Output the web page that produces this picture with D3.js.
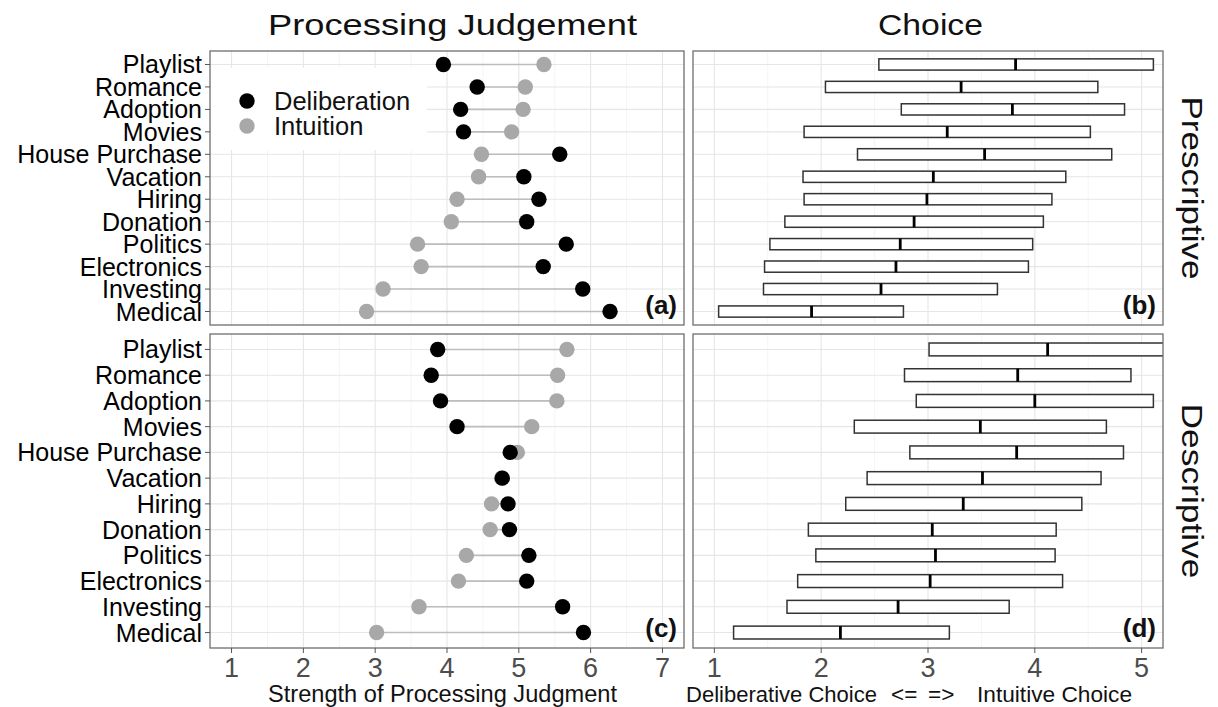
<!DOCTYPE html>
<html><head><meta charset="utf-8">
<script src="https://cdn.jsdelivr.net/npm/d3@7"></script>
<style>
body{margin:0;background:#fff}
svg{display:block}
text{font-family:"Liberation Sans", Arial, sans-serif}
</style>
</head><body>
<svg id="chart" width="1218" height="707"></svg>
<script>
// ---------- data ----------
const categories = ["Playlist","Romance","Adoption","Movies","House Purchase","Vacation","Hiring","Donation","Politics","Electronics","Investing","Medical"];
// Processing judgement (a) prescriptive, (c) descriptive
const presDelib = [3.95,4.42,4.19,4.23,5.57,5.07,5.28,5.11,5.66,5.34,5.89,6.27];
const presIntu  = [5.35,5.09,5.06,4.90,4.48,4.44,4.14,4.06,3.59,3.64,3.11,2.88];
const descDelib = [3.87,3.78,3.91,4.14,4.88,4.77,4.85,4.87,5.14,5.11,5.61,5.90];
const descIntu  = [5.67,5.54,5.53,5.18,4.98,4.76,4.62,4.60,4.27,4.16,3.61,3.02];
// Choice (b) prescriptive, (d) descriptive: box low / median / high
const presLow  = [2.54,2.04,2.75,1.84,2.34,1.83,1.84,1.66,1.52,1.47,1.46,1.04];
const presMed  = [3.82,3.31,3.79,3.18,3.53,3.05,2.99,2.87,2.74,2.70,2.56,1.91];
const presHigh = [5.11,4.59,4.84,4.52,4.72,4.29,4.16,4.08,3.98,3.94,3.65,2.77];
const descLow  = [3.01,2.78,2.89,2.31,2.83,2.43,2.23,1.88,1.95,1.78,1.68,1.18];
const descMed  = [4.12,3.84,4.00,3.49,3.83,3.51,3.33,3.04,3.07,3.02,2.72,2.18];
const descHigh = [5.35,4.90,5.11,4.67,4.83,4.62,4.44,4.20,4.19,4.26,3.76,3.20];
const judgTicks = [1,2,3,4,5,6,7];
const choiceTicks = [1,2,3,4,5];
const seriesNames = ["Deliberation","Intuition"];
const rowLabels = ["Prescriptive","Descriptive"];
const panelTags = ["(a)","(b)","(c)","(d)"];

// ---------- layout ----------
const svg = d3.select("#chart");
const colL = [210, 684], colR = [693, 1163];
const rowT = [51, 325], rowB = [334, 648];
const xJ = d3.scaleLinear().domain([0.7, 7.3]).range(colL);
const xC = d3.scaleLinear().domain([0.8, 5.2]).range(colR);
const yTop = d3.scalePoint().domain(categories).range(rowT).padding(0.6);
const yBot = d3.scalePoint().domain(categories).range(rowB).padding(0.6);
const colDelib = "#000000", colIntu = "#a8a8a8";

const defs = svg.append("defs");

function grid(g, x, y, ticks) {
  const minor = [];
  for (let i = 0; i < ticks.length - 1; i++) minor.push((ticks[i] + ticks[i+1]) / 2);
  const [ry0, ry1] = y.range();
  const [rx0, rx1] = x.range();
  g.selectAll(".mn").data(minor).join("line")
    .attr("x1", d => x(d)).attr("x2", d => x(d)).attr("y1", ry0).attr("y2", ry1)
    .attr("stroke", "#f3f3f3").attr("stroke-width", 0.8);
  g.selectAll(".mj").data(ticks).join("line")
    .attr("x1", d => x(d)).attr("x2", d => x(d)).attr("y1", ry0).attr("y2", ry1)
    .attr("stroke", "#e6e6e6").attr("stroke-width", 1.1);
  g.selectAll(".hy").data(categories).join("line")
    .attr("x1", rx0).attr("x2", rx1).attr("y1", d => y(d)).attr("y2", d => y(d))
    .attr("stroke", "#e6e6e6").attr("stroke-width", 1.1);
}

function border(g, x, y) {
  const [rx0, rx1] = x.range(), [ry0, ry1] = y.range();
  g.append("rect").attr("x", rx0).attr("y", ry0).attr("width", rx1 - rx0).attr("height", ry1 - ry0)
    .attr("fill", "none").attr("stroke", "#6e6e6e").attr("stroke-width", 1.3);
}

function tag(g, x, y, t) {
  const [rx0, rx1] = x.range(), [ry0, ry1] = y.range();
  g.append("text").attr("x", rx1 - 7).attr("y", ry1 - 11).attr("text-anchor", "end")
    .attr("font-size", 26).attr("font-weight", "bold").attr("fill", "#111").text(t);
}

function dumbbell(y, delib, intu, t, legend) {
  const g = svg.append("g");
  grid(g, xJ, y, judgTicks);
  if (legend) {
    g.append("rect").attr("x", 211).attr("y", 68).attr("width", 216).attr("height", 82).attr("fill", "#fff");
  }
  const rows = categories.map((c, i) => ({c, d: delib[i], n: intu[i]}));
  g.selectAll(".seg").data(rows).join("line")
    .attr("x1", r => xJ(r.d)).attr("x2", r => xJ(r.n))
    .attr("y1", r => y(r.c)).attr("y2", r => y(r.c))
    .attr("stroke", "#bdbdbd").attr("stroke-width", 1.6);
  g.selectAll(".pi").data(rows).join("circle")
    .attr("cx", r => xJ(r.n)).attr("cy", r => y(r.c)).attr("r", 7.7).attr("fill", colIntu);
  g.selectAll(".pd").data(rows).join("circle")
    .attr("cx", r => xJ(r.d)).attr("cy", r => y(r.c)).attr("r", 7.7).attr("fill", colDelib);
  if (legend) {
    const lg = g.append("g");
    seriesNames.forEach((s, i) => {
      lg.append("circle").attr("cx", 247).attr("cy", 101 + i * 25).attr("r", 7.7)
        .attr("fill", i === 0 ? colDelib : colIntu);
      lg.append("text").attr("x", 274).attr("y", 110 + i * 25).attr("font-size", 25.5)
        .attr("fill", "#111").text(s);
    });
  }
  border(g, xJ, y);
  tag(g, xJ, y, t);
  // y axis labels and ticks
  g.selectAll(".yl").data(categories).join("text")
    .attr("x", 202).attr("y", d => y(d)).attr("dy", "0.36em").attr("text-anchor", "end")
    .attr("font-size", 25).attr("fill", "#000").text(d => d);
  g.selectAll(".yt").data(categories).join("line")
    .attr("x1", 205).attr("x2", 210).attr("y1", d => y(d)).attr("y2", d => y(d))
    .attr("stroke", "#555").attr("stroke-width", 1);
}

function boxes(y, lo, md, hi, t, id) {
  const g = svg.append("g");
  grid(g, xC, y, choiceTicks);
  const [rx0, rx1] = xC.range(), [ry0, ry1] = y.range();
  defs.append("clipPath").attr("id", id).append("rect")
    .attr("x", rx0).attr("y", ry0).attr("width", rx1 - rx0).attr("height", ry1 - ry0);
  const h = y.step() * 0.5;
  const rows = categories.map((c, i) => ({c, lo: lo[i], md: md[i], hi: hi[i]}));
  const cg = g.append("g").attr("clip-path", `url(#${id})`);
  cg.selectAll(".bx").data(rows).join("rect")
    .attr("x", r => xC(r.lo)).attr("width", r => xC(r.hi) - xC(r.lo))
    .attr("y", r => y(r.c) - h / 2).attr("height", h)
    .attr("fill", "#fff").attr("stroke", "#333").attr("stroke-width", 1.5);
  cg.selectAll(".md").data(rows).join("line")
    .attr("x1", r => xC(r.md)).attr("x2", r => xC(r.md))
    .attr("y1", r => y(r.c) - h / 2).attr("y2", r => y(r.c) + h / 2)
    .attr("stroke", "#000").attr("stroke-width", 2.8);
  border(g, xC, y);
  tag(g, xC, y, t);
}

dumbbell(yTop, presDelib, presIntu, panelTags[0], true);
boxes(yTop, presLow, presMed, presHigh, panelTags[1], "clipB");
dumbbell(yBot, descDelib, descIntu, panelTags[2], false);
boxes(yBot, descLow, descMed, descHigh, panelTags[3], "clipD");

// ---------- x axes ----------
function xAxis(x, ticks) {
  const g = svg.append("g");
  g.selectAll(".t").data(ticks).join("line")
    .attr("x1", d => x(d)).attr("x2", d => x(d)).attr("y1", 648).attr("y2", 653)
    .attr("stroke", "#555").attr("stroke-width", 1);
  g.selectAll(".l").data(ticks).join("text")
    .attr("x", d => x(d)).attr("y", 677).attr("text-anchor", "middle")
    .attr("font-size", 27).attr("fill", "#4d4d4d").text(d => d);
}
xAxis(xJ, judgTicks);
xAxis(xC, choiceTicks);

// axis titles
svg.append("text").attr("x", 268).attr("y", 702).attr("font-size", 23.5).attr("fill", "#111")
  .attr("textLength", 349).attr("lengthAdjust", "spacingAndGlyphs").text("Strength of Processing Judgment");
const ct = svg.append("g").attr("font-size", 22.5).attr("fill", "#111");
ct.append("text").attr("x", 686).attr("y", 702).attr("textLength", 191).attr("lengthAdjust", "spacingAndGlyphs").text("Deliberative Choice");
ct.append("text").attr("x", 891).attr("y", 702).text("<=");
ct.append("text").attr("x", 928).attr("y", 702).text("=>");
ct.append("text").attr("x", 977).attr("y", 702).attr("textLength", 155).attr("lengthAdjust", "spacingAndGlyphs").text("Intuitive Choice");

// column titles
svg.append("text").attr("x", 268).attr("y", 35).attr("font-size", 30).attr("fill", "#111")
  .attr("textLength", 369).attr("lengthAdjust", "spacingAndGlyphs").text("Processing  Judgement");
svg.append("text").attr("x", 878).attr("y", 35).attr("font-size", 30).attr("fill", "#111")
  .attr("textLength", 105).attr("lengthAdjust", "spacingAndGlyphs").text("Choice");

// row strip labels
svg.append("text").attr("transform", `translate(1182,${(rowT[0] + rowT[1]) / 2}) rotate(90)`)
  .attr("text-anchor", "middle").attr("font-size", 29).attr("fill", "#111")
  .attr("textLength", 183).attr("lengthAdjust", "spacingAndGlyphs").text(rowLabels[0]);
svg.append("text").attr("transform", `translate(1182,${(rowB[0] + rowB[1]) / 2}) rotate(90)`)
  .attr("text-anchor", "middle").attr("font-size", 29).attr("fill", "#111")
  .attr("textLength", 175).attr("lengthAdjust", "spacingAndGlyphs").text(rowLabels[1]);
</script>
</body></html>
